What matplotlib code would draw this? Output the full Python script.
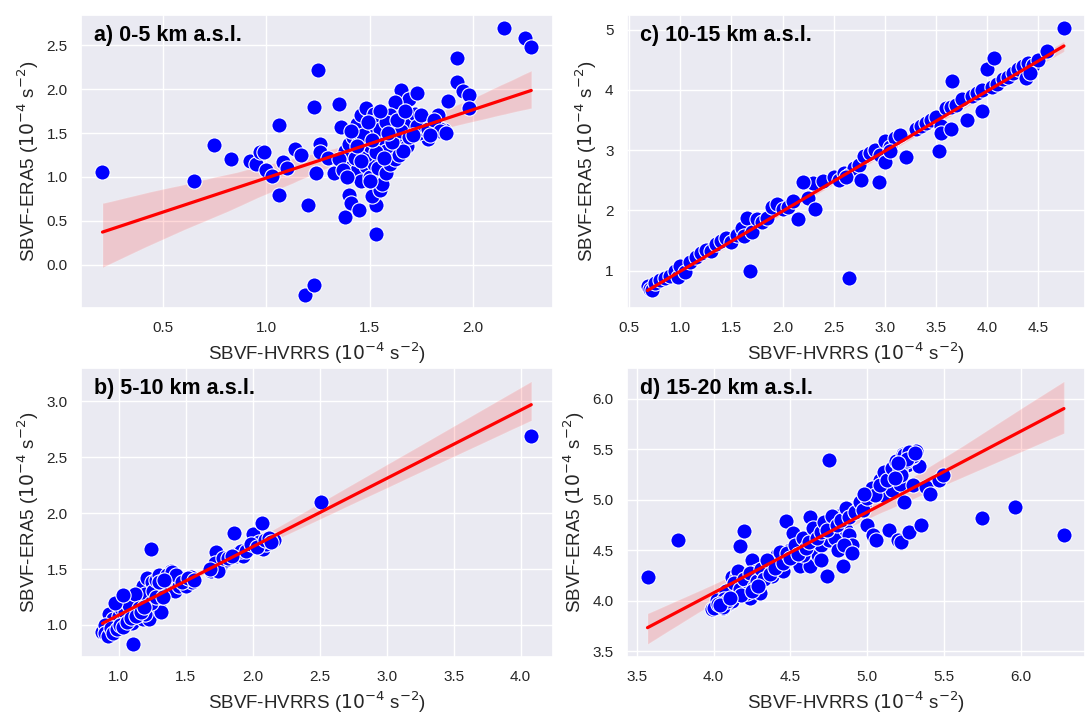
import matplotlib
matplotlib.use("Agg")
import matplotlib.pyplot as plt
import seaborn as sns
import numpy as np

# a) 0-5 km
hv_a = [0.21, 0.65, 0.75, 0.83, 0.92, 0.95, 0.97, 0.99, 1.00, 1.03, 1.06, 1.06, 1.08, 1.10, 1.14,
        1.17, 1.20, 1.19, 1.23, 1.23, 1.25, 1.24, 1.26, 1.26, 1.30, 1.33, 1.35, 1.36, 1.38, 1.40,
        1.41, 1.45, 1.53, 1.53, 1.51, 1.55, 1.92, 1.92, 1.95, 1.98, 1.98, 1.88, 1.83, 1.78, 1.86,
        2.15, 2.25, 2.28, 1.65, 1.69, 1.73, 1.62,
        1.38, 1.40, 1.42, 1.44, 1.46, 1.48, 1.50, 1.52, 1.54, 1.56, 1.58, 1.60, 1.62, 1.64, 1.66,
        1.68, 1.70, 1.72, 1.74, 1.76, 1.80, 1.82, 1.84, 1.40, 1.42, 1.44, 1.46, 1.48, 1.50, 1.52,
        1.54, 1.56, 1.58, 1.60, 1.62, 1.64, 1.66, 1.48, 1.50, 1.45, 1.55, 1.58, 1.35, 1.37, 1.39,
        1.43, 1.47, 1.53, 1.57, 1.61, 1.65, 1.69, 1.73, 1.50, 1.41, 1.44, 1.49, 1.55, 1.59, 1.63,
        1.67, 1.71, 1.75, 1.78, 1.81, 1.46, 1.51, 1.84, 1.87, 1.79]
era_a = [1.06, 0.95, 1.36, 1.20, 1.18, 1.15, 1.28, 1.28, 1.08, 1.01, 1.59, 0.79, 1.17, 1.10, 1.32,
         1.25, 0.68, -0.34, -0.23, 1.79, 2.22, 1.04, 1.38, 1.28, 1.22, 1.05, 1.83, 1.57, 0.55, 0.79,
         0.70, 0.63, 0.35, 0.68, 0.78, 0.85, 2.35, 2.08, 1.98, 1.93, 1.78, 1.86, 1.70, 1.43, 1.53,
         2.69, 2.58, 2.48, 1.99, 1.89, 1.95, 1.85,
         1.30, 1.37, 1.45, 1.60, 1.70, 1.78, 1.50, 1.72, 1.65, 1.40, 1.30, 1.70, 1.55, 1.45, 1.68,
         1.35, 1.60, 1.72, 1.50, 1.55, 1.58, 1.58, 1.55, 1.10, 1.05, 1.08, 0.95, 1.12, 1.00, 1.15,
         1.10, 0.92, 1.05, 1.15, 1.20, 1.25, 1.30, 1.25, 1.35, 1.40, 1.55, 1.62, 1.20, 1.08, 1.00,
         1.22, 1.48, 1.28, 1.22, 1.40, 1.52, 1.45, 1.58, 0.95, 1.52, 1.35, 1.62, 1.75, 1.50, 1.65,
         1.75, 1.48, 1.70, 1.55, 1.65, 1.18, 1.42, 1.52, 1.50, 1.48]

# b) 5-10 km
hv_b = [0.88, 0.92, 0.95, 0.93, 0.96, 0.98, 1.00, 1.02, 1.04, 1.05, 1.06, 1.08, 1.10, 1.11, 1.12,
        1.14, 1.15, 1.16, 1.18, 1.18, 1.20, 1.21, 1.22, 1.23, 1.24, 1.25, 1.26, 1.27, 1.28, 1.30,
        1.32, 1.33, 1.35, 1.37, 1.39, 1.40, 1.42, 1.45, 1.48, 1.50, 1.54, 1.55, 1.69, 1.70, 1.73,
        1.75, 1.77, 1.80, 1.86, 1.88, 1.90, 1.93, 1.97, 2.00, 2.05, 2.07, 2.08, 2.10, 2.16, 2.51,
        4.08, 1.00, 1.05, 1.08, 1.12, 1.15, 1.20, 1.24, 1.28, 1.30, 1.33, 0.90, 0.97, 1.03,
        0.90, 0.92, 0.94, 0.96, 0.99, 1.01, 1.03, 1.06, 1.09, 1.13, 1.17, 1.19,
        1.36, 1.40, 1.43, 1.47, 1.52, 1.56, 1.72, 1.74, 1.78, 1.82, 1.91, 1.95, 1.99, 2.03,
        2.09, 2.12, 2.14, 1.85, 1.68, 1.30, 1.34]
era_b = [0.94, 0.95, 0.92, 1.10, 1.05, 1.00, 1.08, 1.15, 1.05, 1.25, 1.20, 1.10, 1.02, 0.83, 1.18,
         1.12, 1.08, 1.22, 1.05, 1.35, 1.28, 1.42, 1.15, 1.05, 1.68, 1.38, 1.30, 1.22, 1.40, 1.20,
         1.12, 1.35, 1.42, 1.32, 1.48, 1.38, 1.30, 1.35, 1.40, 1.35, 1.43, 1.38, 1.48, 1.52, 1.65,
         1.50, 1.55, 1.58, 1.82, 1.62, 1.65, 1.62, 1.70, 1.81, 1.74, 1.91, 1.68, 1.72, 1.76, 2.10,
         2.69, 0.98, 1.12, 1.18, 1.28, 1.15, 1.10, 1.20, 1.25, 1.45, 1.25, 1.00, 1.20, 1.27,
         0.93, 0.90, 0.97, 0.93, 0.96, 1.00, 0.98, 1.03, 1.06, 1.08, 1.12, 1.16,
         1.45, 1.47, 1.45, 1.38, 1.42, 1.40, 1.55, 1.48, 1.60, 1.60, 1.66, 1.66, 1.72, 1.70,
         1.76, 1.78, 1.74, 1.62, 1.50, 1.38, 1.40]

# c) 10-15 km
hv_c = [0.68, 0.70, 0.72, 0.75, 0.80, 0.85, 0.90, 0.95, 0.98, 1.00, 1.05, 1.10, 1.15, 1.20, 1.25,
        1.30, 1.35, 1.40, 1.45, 1.50, 1.55, 1.60, 1.62, 1.65, 1.70, 1.75, 1.80, 1.85, 1.90, 1.95,
        2.00, 2.05, 2.10, 2.25, 2.30, 2.40, 2.50, 2.55, 2.60, 2.65, 2.70, 2.75, 2.80, 2.85, 2.90,
        2.95, 3.00, 3.05, 3.10, 3.15, 3.30, 3.35, 3.40, 3.45, 3.50, 3.55, 3.60, 3.65, 3.70, 3.75,
        3.85, 3.90, 3.95, 4.05, 4.10, 4.15, 4.20, 4.25, 4.30, 4.35, 4.40, 4.45, 4.50, 4.58,
        1.68, 2.65, 2.15, 2.32, 2.94, 3.53, 3.21, 3.66, 4.00, 4.07, 4.75, 2.20, 3.80, 3.95,
        3.00, 3.05, 3.55, 3.65, 4.38, 4.42, 2.62, 2.77]
era_c = [0.75, 0.70, 0.68, 0.80, 0.85, 0.88, 0.92, 1.00, 0.90, 1.08, 0.98, 1.15, 1.22, 1.30, 1.35,
         1.32, 1.45, 1.50, 1.55, 1.48, 1.60, 1.70, 1.58, 1.88, 1.65, 1.85, 1.80, 1.88, 2.05, 2.10,
         2.02, 2.05, 2.15, 2.20, 2.45, 2.48, 2.55, 2.50, 2.62, 2.58, 2.70, 2.75, 2.90, 2.95, 3.00,
         2.92, 3.15, 3.05, 3.20, 3.25, 3.35, 3.40, 3.45, 3.50, 3.55, 3.40, 3.70, 3.72, 3.75, 3.85,
         3.90, 3.95, 4.00, 4.05, 4.10, 4.18, 4.22, 4.28, 4.35, 4.40, 4.45, 4.42, 4.50, 4.65,
         1.00, 0.88, 1.86, 2.03, 2.47, 2.98, 2.88, 4.14, 4.35, 4.53, 5.02, 2.47, 3.50, 3.65,
         2.80, 2.98, 3.28, 3.35, 4.20, 4.28, 2.55, 2.50]

# d) 15-20 km
hv_d = [3.57, 3.77, 5.75, 5.96, 6.28, 4.75, 4.74,
        3.99, 4.06, 4.05, 4.08, 4.10, 4.12, 4.15, 4.16, 4.17, 4.20, 4.22, 4.24, 4.25, 4.26, 4.27,
        4.28, 4.30, 4.33, 4.35, 4.38, 4.41, 4.43, 4.45, 4.47, 4.50, 4.52, 4.54, 4.56, 4.58, 4.60,
        4.63, 4.63, 4.65, 4.68, 4.70, 4.72, 4.75, 4.77, 4.79, 4.81, 4.83, 4.84, 4.86, 4.88, 4.90,
        4.91, 4.95, 4.98, 5.00, 5.02, 5.04, 5.06, 5.08, 5.10, 5.12, 5.14, 5.16, 5.18, 5.20, 5.21,
        5.22, 5.23, 5.24, 5.25, 5.26, 5.27, 5.30, 5.32, 5.34, 5.35, 5.38, 5.41, 5.47, 5.49,
        4.40, 4.48, 4.58, 4.70, 4.85, 4.90,
        4.02, 4.05, 4.08, 4.10, 4.13, 4.15, 4.17, 4.20, 4.22, 4.24, 4.26, 4.28, 4.31, 4.33, 4.35,
        4.37, 4.40, 4.43, 4.45, 4.48, 4.50, 4.53, 4.55, 4.58, 4.60, 4.62, 4.65, 4.67, 4.70, 4.72,
        4.74, 4.77, 4.80, 4.83, 4.86, 4.88, 4.92, 4.95, 4.97, 5.00, 5.03, 5.05, 5.08, 5.11, 5.13,
        5.16, 5.19, 5.21, 5.23, 5.25, 5.27, 5.29, 5.22, 5.18, 4.98, 4.12, 4.18, 4.07, 4.25, 4.29,
        4.00, 4.03, 4.06, 4.09, 4.04, 4.11, 5.24, 5.27, 5.30, 5.26, 5.31, 5.20]
era_d = [4.24, 4.60, 4.82, 4.93, 4.65, 5.39, 4.25,
         3.92, 3.93, 4.00, 4.08, 4.05, 4.24, 4.25, 4.30, 4.54, 4.69, 4.15, 4.03, 4.40, 4.20, 4.12,
         4.30, 4.08, 4.33, 4.28, 4.25, 4.45, 4.35, 4.30, 4.79, 4.50, 4.67, 4.40, 4.35, 4.55, 4.50,
         4.83, 4.35, 4.66, 4.45, 4.55, 4.73, 4.60, 4.80, 4.62, 4.50, 4.85, 4.35, 4.70, 4.65, 4.55,
         4.90, 4.93, 4.95, 4.75, 5.07, 4.65, 4.60, 5.20, 5.05, 5.17, 4.70, 5.10, 5.29, 4.60, 5.16,
         4.58, 5.40, 4.98, 5.45, 5.35, 4.68, 5.15, 5.48, 5.34, 4.75, 5.13, 5.06, 5.20, 5.25,
         4.38, 4.42, 4.45, 4.40, 4.55, 4.47,
         4.01, 3.95, 4.10, 3.98, 4.18, 4.05, 4.12, 4.22, 4.08, 4.28, 4.14, 4.20, 4.32, 4.22, 4.40,
         4.27, 4.33, 4.48, 4.38, 4.47, 4.42, 4.55, 4.46, 4.62, 4.52, 4.58, 4.72, 4.62, 4.68, 4.78,
         4.70, 4.84, 4.75, 4.80, 4.92, 4.83, 4.88, 4.98, 4.90, 5.02, 5.12, 5.05, 5.15, 5.28, 5.20,
         5.32, 5.38, 5.30, 5.45, 5.38, 5.46, 5.42, 5.25, 5.22, 5.06, 4.00, 4.06, 4.02, 4.10, 4.15,
         3.93, 3.97, 3.94, 4.00, 3.96, 4.03, 5.44, 5.47, 5.43, 5.40, 5.46, 5.36]

panels = [
    ("a) 0-5 km a.s.l.", hv_a, era_a, [0.0745, 0.569, 0.4335, 0.410]),
    ("b) 5-10 km a.s.l.", hv_b, era_b, [0.0745, 0.081, 0.4335, 0.404]),
    ("c) 10-15 km a.s.l.", hv_c, era_c, [0.576, 0.569, 0.421, 0.410]),
    ("d) 15-20 km a.s.l.", hv_d, era_d, [0.576, 0.081, 0.421, 0.404]),
]

sns.set_theme(style="darkgrid")
plt.rcParams['font.family'] = ['Liberation Sans', 'DejaVu Sans']

fig = plt.figure(figsize=(10.88, 7.15), dpi=100)

for label, x, y, rect in panels:
    ax = fig.add_axes(rect)
    x = np.array(x)
    y = np.array(y)
    sns.scatterplot(x=x, y=y, ax=ax, color="blue", s=120, edgecolor="white", linewidth=0.8, zorder=2)
    sns.regplot(x=x, y=y, ax=ax, scatter=False, color="red", seed=0,
                line_kws={"lw": 2.3, "zorder": 3})
    ax.set_xlabel(r"SBVF-HVRRS ($10^{-4}$ s$^{-2}$)", fontsize=13.5)
    ax.set_ylabel(r"SBVF-ERA5 ($10^{-4}$ s$^{-2}$)", fontsize=13.5)
    ax.tick_params(labelsize=11)
    ax.text(0.028, 0.912, label, transform=ax.transAxes, fontsize=15.5, fontweight="bold",
            color="black", va="baseline", ha="left")

fig.savefig("out.png", dpi=100)
